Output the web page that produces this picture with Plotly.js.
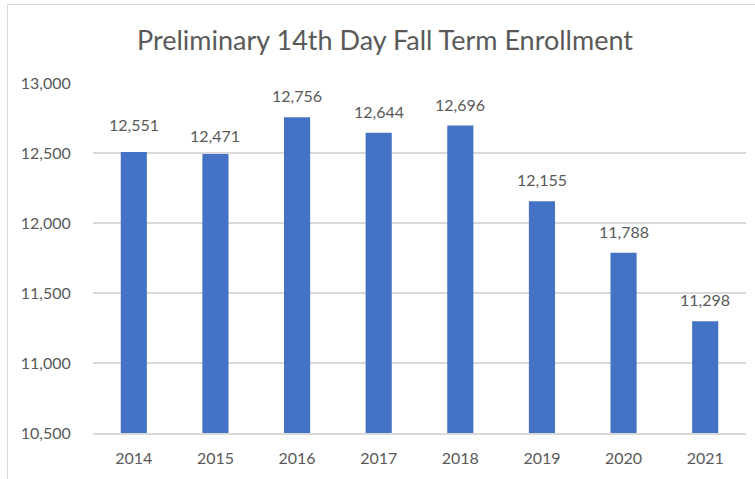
<!DOCTYPE html>
<html>
<head>
<meta charset="utf-8">
<script src="https://cdn.plot.ly/plotly-3.0.1.min.js"></script>
<style>
  html, body { margin: 0; padding: 0; background: #fff; }
  #wrap { position: relative; width: 755px; height: 479px; overflow: hidden; }
  #chart { width: 755px; height: 479px; }
  #frame { position: absolute; left: 7px; top: 4px; width: 800px; height: 600px;
           border-top: 1.5px solid #d9d9d9; border-left: 1.5px solid #d9d9d9;
           pointer-events: none; }
</style>
</head>
<body>
<div id="wrap">
  <div id="chart"></div>
  <div id="frame"></div>
</div>
<script>
// Data
const years = ['2014', '2015', '2016', '2017', '2018', '2019', '2020', '2021'];
// bar heights as drawn in the picture
const barValues = [12507, 12493, 12756, 12644, 12696, 12155, 11788, 11298];
// data label values printed above the bars
const labelValues = [12551, 12471, 12756, 12644, 12696, 12155, 11788, 11298];
const yTicks = [10500, 11000, 11500, 12000, 12500, 13000];

const FONT = 'Lato, "Open Sans", "Liberation Sans", sans-serif';
const GREY = '#595959';

const trace = {
  type: 'bar',
  x: years,
  y: barValues,
  marker: { color: '#4472C4' },
  hoverinfo: 'x+y'
};

// category axis: annotate by category index, at the labelled value
const annotations = years.map((yr, i) => ({
  x: i,
  y: labelValues[i],
  xref: 'x',
  yref: 'y',
  text: labelValues[i].toLocaleString('en-US'),
  showarrow: false,
  yanchor: 'bottom',
  yshift: 10,
  font: { family: FONT, size: 16, color: GREY }
}));

const layout = {
  width: 755,
  height: 479,
  margin: { l: 93, r: 9, t: 83, b: 46 },
  paper_bgcolor: '#ffffff',
  plot_bgcolor: '#ffffff',
  bargap: 0.68,
  showlegend: false,
  title: {
    text: 'Preliminary 14th Day Fall Term Enrollment',
    font: { family: FONT, size: 27, color: GREY },
    x: 385 / 755,
    xanchor: 'center',
    xref: 'container',
    y: 1 - 41 / 479,
    yanchor: 'middle',
    yref: 'container'
  },
  xaxis: {
    type: 'category',
    range: [-0.5, years.length - 0.5],
    showgrid: false,
    showline: true,
    linecolor: '#d9d9d9',
    linewidth: 1.5,
    ticks: 'outside',
    ticklen: 10,
    tickcolor: 'rgba(0,0,0,0)',
    tickfont: { family: FONT, size: 16, color: GREY }
  },
  yaxis: {
    range: [10500, 13000],
    tickvals: yTicks,
    tickformat: ',d',
    showgrid: true,
    gridcolor: '#d9d9d9',
    gridwidth: 1.5,
    zeroline: false,
    showline: false,
    ticks: 'outside',
    ticklen: 18,
    tickcolor: 'rgba(0,0,0,0)',
    tickfont: { family: FONT, size: 16, color: GREY }
  },
  annotations: annotations
};

Plotly.newPlot('chart', [trace], layout, { displayModeBar: false, staticPlot: true });
</script>
</body>
</html>
